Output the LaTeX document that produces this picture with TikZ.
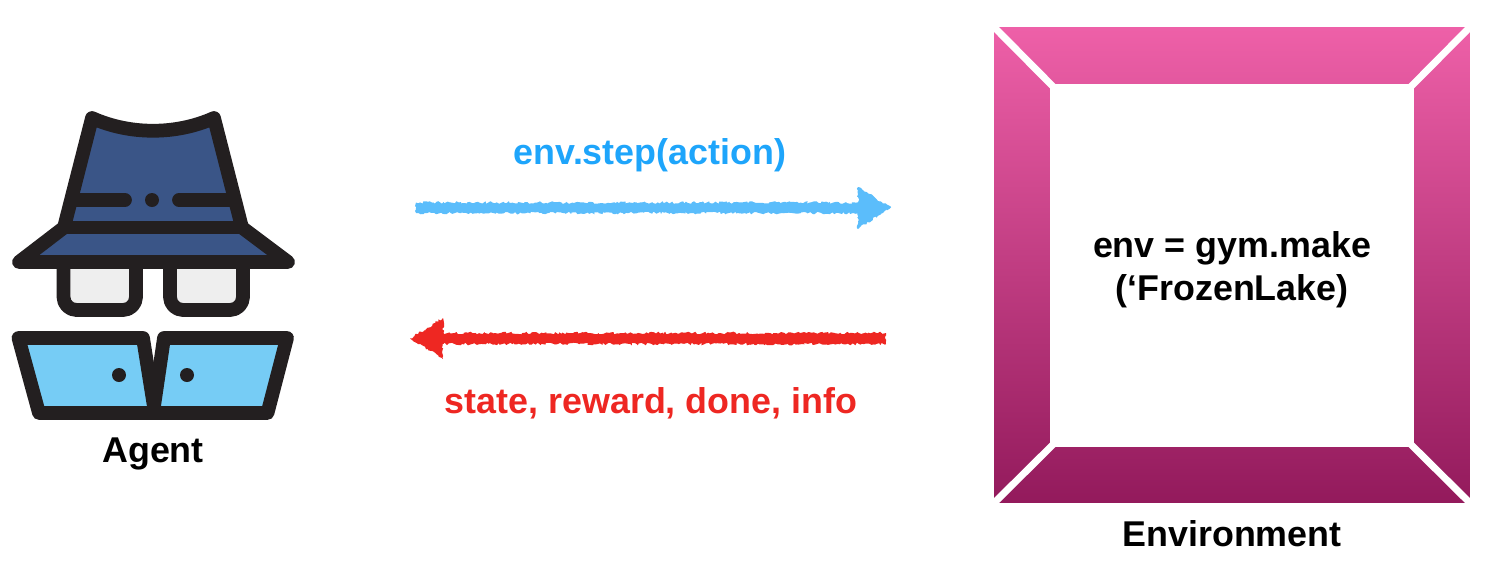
\documentclass[tikz,border=0pt]{standalone}
\usepackage{fontspec}
\setmainfont{Liberation Sans}
\usepackage{xcolor}
\usetikzlibrary{decorations.pathmorphing}

\definecolor{inkdark}{HTML}{231F20}
\definecolor{hatblue}{HTML}{3A5587}
\definecolor{lensgray}{HTML}{EEEEEE}
\definecolor{laptopblue}{HTML}{76CCF5}
\definecolor{actionblue}{HTML}{5BBDFB}
\definecolor{actiontext}{HTML}{1EA5FB}
\definecolor{staterred}{HTML}{EE2722}
\definecolor{framepinktop}{HTML}{EE60A8}
\definecolor{framepinkbottom}{HTML}{931A5C}

\tikzset{
  icon/.style={draw=inkdark, line width=.275cm, line join=round, line cap=round},
  label/.style={font=\fontsize{20.4}{24.4}\selectfont\bfseries, inner sep=0pt, align=center},
  sketchline/.style={fill, decorate, decoration={random steps, segment length=1.1pt, amplitude=.75pt}},
  outerframe/.style={rectangle, minimum size=9.52cm, inner sep=0pt, top color=framepinktop, bottom color=framepinkbottom},
  innerframe/.style={rectangle, fill=white, minimum size=7.28cm, inner sep=0pt},
  gap/.style={draw=white, line width=.14cm, shorten >=-.1cm}
}

\begin{document}
\begin{tikzpicture}[x=.02cm, y=-.02cm]
\useasboundingbox (0,0) rectangle (1494,572);
\pgfmathsetseed{42}

% glasses
\draw[icon, fill=lensgray, rounded corners=.26cm] (63.5,262) -- (63.5,310) -- (136,310) -- (136,262);
\draw[icon, fill=lensgray, rounded corners=.26cm] (170,262) -- (170,310) -- (243,310) -- (243,262);

% hat
\draw[icon, fill=hatblue] (92,118) .. controls (130,135) and (176,135) .. (214,118) -- (242,227.5) -- (288,262) -- (19,262) -- (64,227.5) -- cycle;
\coordinate (bandleft) at (64,227.5);
\coordinate (bandright) at (242,227.5);
\coordinate (ribbonleft) at (74,200);
\coordinate (ribbonright) at (233,200);
\coordinate (ribbonleftend) at (125,200);
\coordinate (ribbonrightend) at (179,200);
\draw[icon] (bandleft) -- (bandright);
\draw[icon] (ribbonleft) -- (ribbonleftend);
\draw[icon] (ribbonrightend) -- (ribbonright);
\fill[inkdark] (152,200) circle (7);

% laptop
\draw[icon, fill=laptopblue] (18.5,338) -- (143,338) -- (155,413) -- (39,413) -- cycle;
\draw[icon, fill=laptopblue] (164,338) -- (287,338) -- (267.5,413) -- (153,413) -- cycle;
\fill[inkdark] (119,375) circle (7);
\fill[inkdark] (187,375) circle (7);

\node[label] (agent) at (153,454) {Agent};

% arrows
\path[sketchline, actionblue] (416,202.5) -- (866,202.5) -- (866,213) -- (416,213) -- cycle;
\path[sketchline, actionblue] (858,187) -- (891,207.5) -- (858,229) -- cycle;
\node[label, text=actiontext] (action) at (650,155) {env.step(action)};

\path[sketchline, staterred] (886,333) -- (436,333) -- (436,344) -- (886,344) -- cycle;
\path[sketchline, staterred] (443,318) -- (410,338.5) -- (443,359) -- cycle;
\node[label, text=staterred] (state) at (651,403) {state, reward, done, info};

% environment
\node[outerframe] (envframe) at (1232,265) {};
\node[innerframe] (envinner) at (1232,265.5) {};
\draw[gap] (envframe.north west) -- (envinner.north west);
\draw[gap] (envframe.north east) -- (envinner.north east);
\draw[gap] (envframe.south west) -- (envinner.south west);
\draw[gap] (envframe.south east) -- (envinner.south east);
\node[label] (make) at (1232,270) {env = gym.make\\(‘FrozenLake)};
\node[label, below=.34cm] (environment) at (envframe.south) {Environment};
\end{tikzpicture}
\end{document}
